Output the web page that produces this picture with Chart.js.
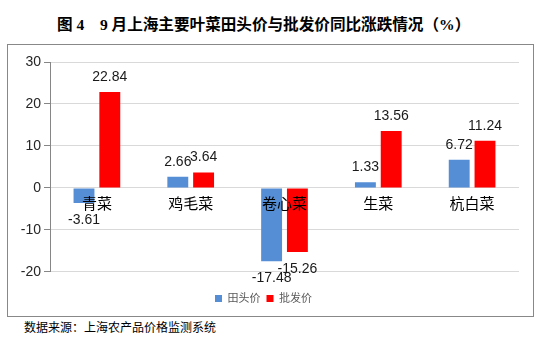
<!DOCTYPE html>
<html>
<head>
<meta charset="utf-8">
<script src="https://cdn.jsdelivr.net/npm/chart.js@4.4.1/dist/chart.umd.min.js"></script>
<style>
  html, body { margin: 0; padding: 0; background: #fff; }
  body { width: 541px; height: 348px; position: relative; overflow: hidden; }
  #title {
    position: absolute; left: 57px; top: 14px; white-space: nowrap;
    font: bold 15.6px "Liberation Serif", "Noto Sans CJK SC", sans-serif; color: #000;
    line-height: 22px;
  }
  #frame {
    position: absolute; left: 7px; top: 44px; width: 527px; height: 273px;
    box-sizing: border-box; border: 1px solid #888;
  }
  #frame canvas { display: block; }
  #source {
    position: absolute; left: 24px; top: 319px; white-space: nowrap;
    font: 12px "Noto Sans CJK SC", sans-serif; color: #000; line-height: 16px;
  }
</style>
</head>
<body>
<div id="title">图 4　9 月上海主要叶菜田头价与批发价同比涨跌情况（%）</div>
<div id="frame"><canvas id="c" width="525" height="271"></canvas></div>
<div id="source">数据来源：上海农产品价格监测系统</div>
<script>
const categories = ['青菜', '鸡毛菜', '卷心菜', '生菜', '杭白菜'];
const farmPrice = [-3.61, 2.66, -17.48, 1.33, 6.72];       // 田头价
const wholesalePrice = [22.84, 3.64, -15.26, 13.56, 11.24]; // 批发价
const yTicks = [-20, -10, 0, 10, 20, 30];

const FONT = '"Liberation Sans", "Noto Sans CJK SC", sans-serif';

// value labels at the outer end of each bar
const valueLabels = {
  id: 'valueLabels',
  afterDatasetsDraw(chart) {
    const ctx = chart.ctx;
    ctx.save();
    ctx.font = '14px ' + FONT;
    ctx.fillStyle = '#1a1a1a';
    ctx.textAlign = 'center';
    chart.data.datasets.forEach((ds, i) => {
      const meta = chart.getDatasetMeta(i);
      meta.data.forEach((bar, j) => {
        const v = ds.data[j];
        if (v >= 0) {
          ctx.textBaseline = 'bottom';
          ctx.fillText(v.toFixed(2), bar.x, bar.y - 8);
        } else {
          ctx.textBaseline = 'top';
          ctx.fillText(v.toFixed(2), bar.x, bar.y + 10);
        }
      });
    });
    ctx.restore();
  }
};

new Chart(document.getElementById('c'), {
  type: 'bar',
  data: {
    labels: categories,
    datasets: [
      { label: '田头价', data: farmPrice, backgroundColor: '#558ED5' },
      { label: '批发价', data: wholesalePrice, backgroundColor: '#FF0000' }
    ]
  },
  plugins: [valueLabels],
  options: {
    responsive: false,
    animation: false,
    devicePixelRatio: 1,
    categoryPercentage: 0.55,
    barPercentage: 0.81,
    layout: { padding: { top: 17, right: 14, left: 0, bottom: 2 } },
    plugins: {
      title: { display: false },
      tooltip: { enabled: false },
      legend: {
        position: 'bottom',
        title: { display: true, text: '', font: { size: 1 }, padding: { top: 14, bottom: 0 } },
        labels: {
          boxWidth: 7, boxHeight: 7, padding: 6,
          color: '#595959',
          font: { size: 11, family: FONT }
        }
      }
    },
    scales: {
      x: {
        position: { y: 0 },
        grid: { display: false, drawTicks: false },
        border: { display: false },
        ticks: { z: 1, color: '#000', font: { size: 15, family: FONT }, padding: 8 }
      },
      y: {
        min: -20, max: 30,
        afterBuildTicks: s => { s.ticks = yTicks.map(v => ({ value: v })); },
        afterFit: s => { s.width = 42; },
        grid: { color: '#d9d9d9', tickColor: '#868686', tickLength: 6 },
        border: { color: '#868686' },
        ticks: { color: '#262626', font: { size: 14, family: FONT }, padding: 3 }
      }
    }
  }
});
</script>
</body>
</html>
